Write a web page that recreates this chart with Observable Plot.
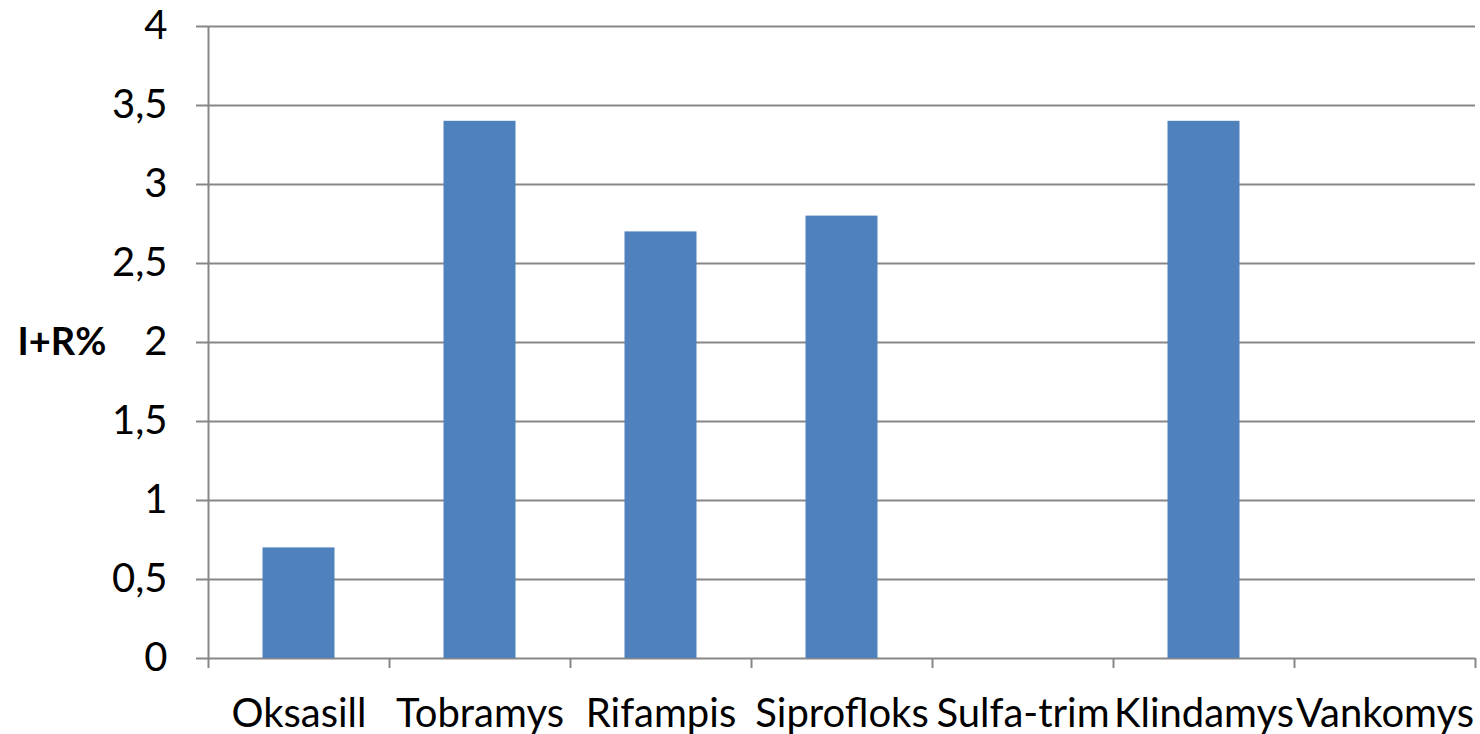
<!DOCTYPE html>
<html>
<head>
<meta charset="utf-8">
<script src="https://cdn.jsdelivr.net/npm/d3@7"></script>
<script src="https://cdn.jsdelivr.net/npm/@observablehq/plot@0.6"></script>
<style>
  html, body { margin: 0; padding: 0; background: #fff; }
  #chart { width: 1480px; height: 734px; }
</style>
</head>
<body>
<div id="chart"></div>
<script>
const categories = ["Oksasill", "Tobramys", "Rifampis", "Siprofloks", "Sulfa-trim", "Klindamys", "Vankomys"];
const values = [0.7, 3.4, 2.7, 2.8, 0, 3.4, 0];
const yTicks = [0, 0.5, 1, 1.5, 2, 2.5, 3, 3.5, 4];
const yLabel = "I+R%";

const data = categories.map((c, i) => ({category: c, value: values[i]}));

const W = 1480, H = 734;
const mL = 208, mR = 5, mT = 26, mB = 76;
const step = (W - mL - mR) / categories.length;
const barW = 72;
const inset = (step - barW) / 2;
const gray = "#878787";
const font = "Lato, 'Open Sans', sans-serif";

const chart = Plot.plot({
  width: W,
  height: H,
  marginLeft: mL,
  marginRight: mR,
  marginTop: mT,
  marginBottom: mB,
  style: {fontFamily: font, background: "#fff", color: "#000", overflow: "visible"},
  x: {domain: categories, padding: 0, axis: null, label: null},
  y: {domain: [0, 4], axis: null, label: null},
  marks: [
    Plot.ruleY(yTicks, {y: d => d, stroke: gray, strokeWidth: 2, insetLeft: -12}),
    Plot.ruleX([categories[0]], {x: d => d, dx: -step / 2, stroke: gray, strokeWidth: 2}),
    Plot.barY(data, {x: "category", y: "value", fill: "#4F81BD", insetLeft: inset, insetRight: inset}),
    Plot.axisX(categories, {tickSize: 10, text: null, label: null, dx: -step / 2, stroke: gray, strokeWidth: 2}),
    Plot.axisX([categories[categories.length - 1]], {tickSize: 10, text: null, label: null, dx: step / 2, stroke: gray, strokeWidth: 2}),
    Plot.axisX(categories, {tickSize: 0, tickPadding: 40, fontSize: 40, fill: "#000", label: null}),
    Plot.axisY(yTicks, {
      tickSize: 0, tickPadding: 41, fontSize: 40, fill: "#000", label: null,
      tickFormat: d => String(d).replace(".", ",")
    }),
    Plot.text([yLabel], {frameAnchor: "left", dx: -191, textAnchor: "start", fontSize: 38, fontWeight: "bold", fill: "#000"})
  ]
});
document.getElementById("chart").appendChild(chart);
</script>
</body>
</html>
